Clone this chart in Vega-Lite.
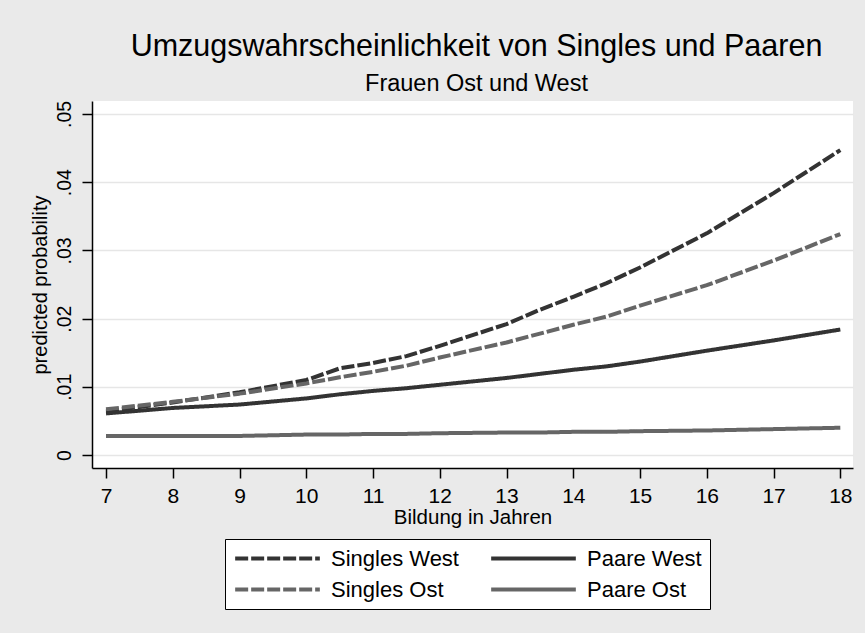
{
  "$schema": "https://vega.github.io/schema/vega-lite/v6.json",
  "width": 761,
  "height": 367,
  "autosize": {"type": "none"},
  "padding": {"left": 92, "top": 101, "right": 12, "bottom": 165},
  "background": "#eaeaea",
  "config": {
    "font": "Liberation Sans",
    "view": {"fill": "white", "stroke": null}
  },
  "title": {
    "text": "Umzugswahrscheinlichkeit von Singles und Paaren",
    "subtitle": "Frauen Ost und West",
    "fontSize": 30.5,
    "subtitleFontSize": 23.5,
    "fontWeight": "normal",
    "color": "black",
    "subtitleColor": "black",
    "anchor": "middle",
    "frame": "group",
    "offset": 5,
    "subtitlePadding": 9,
    "dx": 4
  },
  "data": {
    "values": [
      {"x": 7, "p": 0.0064, "g": "Singles West"},
      {"x": 8, "p": 0.0077, "g": "Singles West"},
      {"x": 9, "p": 0.0092, "g": "Singles West"},
      {"x": 10, "p": 0.0110, "g": "Singles West"},
      {"x": 10.5, "p": 0.0127, "g": "Singles West"},
      {"x": 11, "p": 0.0135, "g": "Singles West"},
      {"x": 11.5, "p": 0.0145, "g": "Singles West"},
      {"x": 12, "p": 0.0160, "g": "Singles West"},
      {"x": 13, "p": 0.0192, "g": "Singles West"},
      {"x": 13.5, "p": 0.0213, "g": "Singles West"},
      {"x": 14, "p": 0.0232, "g": "Singles West"},
      {"x": 14.5, "p": 0.0252, "g": "Singles West"},
      {"x": 15, "p": 0.0275, "g": "Singles West"},
      {"x": 16, "p": 0.0325, "g": "Singles West"},
      {"x": 17, "p": 0.0384, "g": "Singles West"},
      {"x": 18, "p": 0.0447, "g": "Singles West"},
      {"x": 7, "p": 0.0067, "g": "Singles Ost"},
      {"x": 8, "p": 0.0078, "g": "Singles Ost"},
      {"x": 9, "p": 0.0090, "g": "Singles Ost"},
      {"x": 10, "p": 0.0105, "g": "Singles Ost"},
      {"x": 10.5, "p": 0.0114, "g": "Singles Ost"},
      {"x": 11, "p": 0.0122, "g": "Singles Ost"},
      {"x": 11.5, "p": 0.0131, "g": "Singles Ost"},
      {"x": 12, "p": 0.0143, "g": "Singles Ost"},
      {"x": 13, "p": 0.0165, "g": "Singles Ost"},
      {"x": 13.5, "p": 0.0178, "g": "Singles Ost"},
      {"x": 14, "p": 0.0191, "g": "Singles Ost"},
      {"x": 14.5, "p": 0.0203, "g": "Singles Ost"},
      {"x": 15, "p": 0.0219, "g": "Singles Ost"},
      {"x": 16, "p": 0.0249, "g": "Singles Ost"},
      {"x": 17, "p": 0.0285, "g": "Singles Ost"},
      {"x": 18, "p": 0.0324, "g": "Singles Ost"},
      {"x": 7, "p": 0.0061, "g": "Paare West"},
      {"x": 8, "p": 0.0069, "g": "Paare West"},
      {"x": 9, "p": 0.0074, "g": "Paare West"},
      {"x": 10, "p": 0.0083, "g": "Paare West"},
      {"x": 10.5, "p": 0.0089, "g": "Paare West"},
      {"x": 11, "p": 0.0094, "g": "Paare West"},
      {"x": 11.5, "p": 0.0098, "g": "Paare West"},
      {"x": 12, "p": 0.0103, "g": "Paare West"},
      {"x": 13, "p": 0.0113, "g": "Paare West"},
      {"x": 13.5, "p": 0.0119, "g": "Paare West"},
      {"x": 14, "p": 0.0125, "g": "Paare West"},
      {"x": 14.5, "p": 0.0130, "g": "Paare West"},
      {"x": 15, "p": 0.0137, "g": "Paare West"},
      {"x": 16, "p": 0.0153, "g": "Paare West"},
      {"x": 17, "p": 0.0168, "g": "Paare West"},
      {"x": 18, "p": 0.0184, "g": "Paare West"},
      {"x": 7, "p": 0.0028, "g": "Paare Ost"},
      {"x": 8, "p": 0.0028, "g": "Paare Ost"},
      {"x": 9, "p": 0.0028, "g": "Paare Ost"},
      {"x": 10, "p": 0.0030, "g": "Paare Ost"},
      {"x": 10.5, "p": 0.0030, "g": "Paare Ost"},
      {"x": 11, "p": 0.0031, "g": "Paare Ost"},
      {"x": 11.5, "p": 0.0031, "g": "Paare Ost"},
      {"x": 12, "p": 0.0032, "g": "Paare Ost"},
      {"x": 13, "p": 0.0033, "g": "Paare Ost"},
      {"x": 13.5, "p": 0.0033, "g": "Paare Ost"},
      {"x": 14, "p": 0.0034, "g": "Paare Ost"},
      {"x": 14.5, "p": 0.0034, "g": "Paare Ost"},
      {"x": 15, "p": 0.0035, "g": "Paare Ost"},
      {"x": 16, "p": 0.0036, "g": "Paare Ost"},
      {"x": 17, "p": 0.0038, "g": "Paare Ost"},
      {"x": 18, "p": 0.0040, "g": "Paare Ost"}
    ]
  },
  "mark": {"type": "line", "strokeWidth": 4, "strokeCap": "butt", "strokeJoin": "round"},
  "encoding": {
    "x": {
      "field": "x",
      "type": "quantitative",
      "scale": {"domain": [6.79, 18.19], "nice": false, "zero": false},
      "axis": {
        "title": "Bildung in Jahren",
        "values": [7, 8, 9, 10, 11, 12, 13, 14, 15, 16, 17, 18],
        "grid": false,
        "labelFontSize": 21,
        "labelColor": "black",
        "labelPadding": 7,
        "tickSize": 10,
        "tickWidth": 1.5,
        "tickColor": "black",
        "domainColor": "black",
        "domainWidth": 1.5,
        "titleFontSize": 20.5,
        "titleFontWeight": "normal",
        "titleColor": "black",
        "titlePadding": 1,
        "labelFlush": false,
        "labelOverlap": false
      }
    },
    "y": {
      "field": "p",
      "type": "quantitative",
      "scale": {"domain": [-0.0019, 0.0519], "nice": false, "zero": false},
      "axis": {
        "title": "predicted probability",
        "values": [0, 0.01, 0.02, 0.03, 0.04, 0.05],
        "labelExpr": "datum.value == 0 ? '0' : replace(format(datum.value, '.2f'), '0.', '.')",
        "labelAngle": -90,
        "labelAlign": "center",
        "labelBaseline": "alphabetic",
        "labelFontSize": 19.5,
        "labelColor": "black",
        "labelPadding": 12,
        "tickSize": 10,
        "tickWidth": 1.5,
        "tickColor": "black",
        "domainColor": "black",
        "domainWidth": 1.5,
        "grid": true,
        "gridColor": "#e6e6e6",
        "gridWidth": 1.5,
        "titleFontSize": 20,
        "titleFontWeight": "normal",
        "titleColor": "black",
        "titlePadding": 4,
        "labelFlush": false,
        "labelOverlap": false
      }
    },
    "color": {
      "field": "g",
      "type": "nominal",
      "scale": {
        "domain": ["Singles West", "Paare West", "Singles Ost", "Paare Ost"],
        "range": ["#333333", "#333333", "#666666", "#666666"]
      },
      "legend": {
        "title": null,
        "orient": "none",
        "legendX": 133,
        "legendY": 438,
        "columns": 2,
        "direction": "horizontal",
        "gridAlign": "all",
        "symbolType": "stroke",
        "symbolSize": 7170,
        "symbolStrokeWidth": 4,
        "clipHeight": 23,
        "rowPadding": 8,
        "columnPadding": 30,
        "labelOffset": 9,
        "labelFontSize": 22,
        "labelColor": "black",
        "labelLimit": 300,
        "padding": 8,
        "strokeColor": "black",
        "fillColor": "white"
      }
    },
    "strokeDash": {
      "field": "g",
      "type": "nominal",
      "scale": {
        "domain": ["Singles West", "Paare West", "Singles Ost", "Paare Ost"],
        "range": [[13, 3], [1, 0], [13, 3], [1, 0]]
      },
      "legend": null
    }
  }
}
